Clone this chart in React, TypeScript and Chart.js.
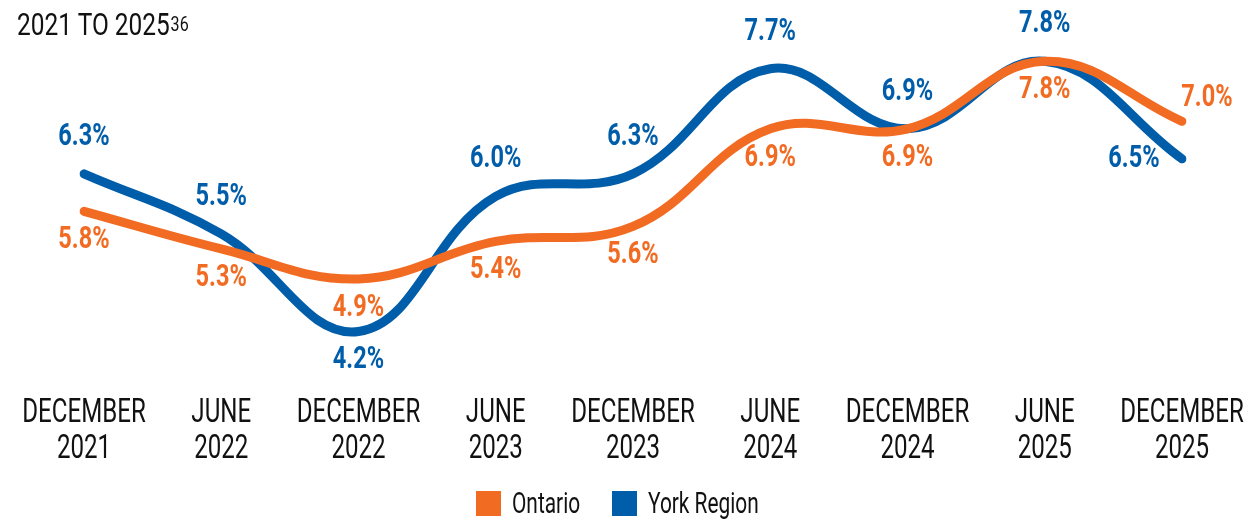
import React, { useEffect, useRef } from "react";
import { Chart, registerables } from "chart.js";

Chart.register(...registerables);

// ---- data ----
const categories: string[][] = [
  ["DECEMBER", "2021"],
  ["JUNE", "2022"],
  ["DECEMBER", "2022"],
  ["JUNE", "2023"],
  ["DECEMBER", "2023"],
  ["JUNE", "2024"],
  ["DECEMBER", "2024"],
  ["JUNE", "2025"],
  ["DECEMBER", "2025"],
];
const ontarioValues = [5.8, 5.3, 4.9, 5.4, 5.6, 6.9, 6.9, 7.8, 7.0];
const yorkValues = [6.3, 5.5, 4.2, 6.0, 6.3, 7.7, 6.9, 7.8, 6.5];
const seriesNames = ["Ontario", "York Region"];
const titleText = "2021 TO 2025";
const titleNote = "36";

// label placement relative to each point
const ontarioPlacement = ["below", "below", "below", "below", "below", "below", "below", "below", "upRight"];
const yorkPlacement = ["above", "above", "below", "above", "above", "above", "above", "above", "left"];

const ORANGE = "#F26B22";
const BLUE = "#005DAA";
const TEXT = "#111111";
const FONT = "Roboto, 'Liberation Sans', sans-serif";
const SQUEEZE = 0.73;

function drawSqueezed(ctx: CanvasRenderingContext2D, text: string, x: number, y: number, sx = SQUEEZE) {
  ctx.save();
  ctx.translate(x, y);
  ctx.scale(sx, 1);
  ctx.fillText(text, 0, 0);
  ctx.restore();
}

const pointLabelsPlugin = {
  id: "pointLabels",
  afterDatasetsDraw(chart: any) {
    const ctx = chart.ctx as CanvasRenderingContext2D;
    const placements = [ontarioPlacement, yorkPlacement];
    ctx.save();
    ctx.font = `bold 31px ${FONT}`;
    ctx.textAlign = "center";
    ctx.textBaseline = "middle";
    chart.data.datasets.forEach((ds: any, di: number) => {
      const meta = chart.getDatasetMeta(di);
      ctx.fillStyle = ds.borderColor;
      meta.data.forEach((pt: any, i: number) => {
        const v = ds.data[i] as number;
        const text = v.toFixed(1) + "%";
        const p = placements[di][i];
        let dx = 0;
        let dy = 0;
        if (p === "above") dy = -37;
        else if (p === "below") dy = 29;
        else if (p === "left") dx = -48;
        else if (p === "upRight") {
          dx = 25;
          dy = -23;
        }
        drawSqueezed(ctx, text, pt.x + dx, pt.y + dy, 0.76);
      });
    });
    ctx.restore();
  },
};

const xLabelsPlugin = {
  id: "xLabels",
  afterDraw(chart: any) {
    const ctx = chart.ctx as CanvasRenderingContext2D;
    const xs = chart.scales.x;
    ctx.save();
    ctx.font = `33px ${FONT}`;
    ctx.textAlign = "center";
    ctx.textBaseline = "alphabetic";
    ctx.fillStyle = TEXT;
    const labels = chart.data.labels as string[][];
    labels.forEach((lines, i) => {
      const x = xs.getPixelForTick(i);
      lines.forEach((ln, j) => {
        drawSqueezed(ctx, ln, x, xs.top + 38 + j * 36);
      });
    });
    ctx.restore();
  },
};

export default function App() {
  const canvasRef = useRef<HTMLCanvasElement | null>(null);

  useEffect(() => {
    if (!canvasRef.current) return;
    const chart = new Chart(canvasRef.current, {
      type: "line",
      data: {
        labels: categories,
        datasets: [
          {
            label: seriesNames[0],
            data: ontarioValues,
            borderColor: ORANGE,
            backgroundColor: ORANGE,
            borderWidth: 9,
            borderCapStyle: "round",
            tension: 0.4,
            pointRadius: 0,
            pointHoverRadius: 0,
            fill: false,
          },
          {
            label: seriesNames[1],
            data: yorkValues,
            borderColor: BLUE,
            backgroundColor: BLUE,
            borderWidth: 9,
            borderCapStyle: "round",
            tension: 0.4,
            pointRadius: 0,
            pointHoverRadius: 0,
            fill: false,
          },
        ],
      },
      options: {
        responsive: false,
        animation: false,
        layout: { padding: { left: 84, right: 67, top: 20, bottom: 0 } },
        scales: {
          x: {
            type: "category",
            offset: false,
            grid: { display: false },
            border: { display: false },
            ticks: { display: false, autoSkip: false },
            afterFit: (scale: any) => {
              scale.height = 135;
            },
          },
          y: {
            display: false,
            min: 3.5,
            max: 8.35,
          },
        },
        plugins: {
          legend: { display: false },
          tooltip: { enabled: false },
        },
      },
      plugins: [pointLabelsPlugin, xLabelsPlugin],
    } as any);
    return () => chart.destroy();
  }, []);

  const legendText: React.CSSProperties = {
    position: "absolute",
    top: 489,
    fontFamily: FONT,
    fontSize: 29,
    lineHeight: "29px",
    color: TEXT,
    whiteSpace: "nowrap",
    transform: `scaleX(0.72)`,
    transformOrigin: "left top",
  };
  const legendBox: React.CSSProperties = {
    position: "absolute",
    top: 491,
    width: 25,
    height: 25,
  };

  return (
    <div
      style={{
        position: "fixed",
        left: 0,
        top: 0,
        width: 1249,
        height: 519,
        background: "#ffffff",
      }}
    >
      <canvas ref={canvasRef} width={1249} height={519} style={{ display: "block" }} />
      <div
        style={{
          position: "absolute",
          left: 17,
          top: 8,
          fontFamily: FONT,
          fontSize: 32,
          lineHeight: "32px",
          color: TEXT,
          whiteSpace: "nowrap",
          transform: `scaleX(0.765)`,
          transformOrigin: "left top",
        }}
      >
        {titleText}
        <span style={{ fontSize: 21, verticalAlign: "top", position: "relative", top: 0, marginLeft: 1 }}>
          {titleNote}
        </span>
      </div>
      <div style={{ ...legendBox, left: 476, background: ORANGE }} />
      <div style={{ ...legendText, left: 512 }}>{seriesNames[0]}</div>
      <div style={{ ...legendBox, left: 612, background: BLUE }} />
      <div style={{ ...legendText, left: 648 }}>{seriesNames[1]}</div>
    </div>
  );
}
